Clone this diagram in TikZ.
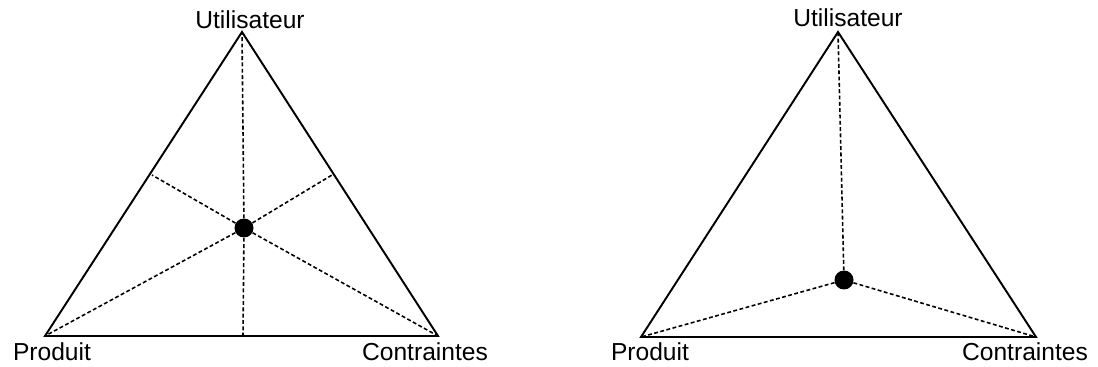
\documentclass[tikz,border=0pt]{standalone}
\usepackage{fontspec}
\setmainfont{Liberation Sans}
\usetikzlibrary{positioning}

\begin{document}
\begin{tikzpicture}[x=0.02cm, y=-0.02cm,
                    every node/.append style = {font=\fontsize{14}{16}\selectfont},
                    side/.style = {line width=1.1pt},
                    link/.style = {line width=0.9pt, dash pattern=on 2.2pt off 1.4pt},
                    pole/.style = {circle, fill=black, inner sep=0pt, minimum size=0.38cm}]
                \useasboundingbox (0,0) rectangle (1098,367);
                % balanced triangle
                \coordinate (lu) at (242,32);
                \coordinate (lp) at (45,336);
                \coordinate (lc) at (438,336);
                \coordinate (lb) at (243,336);
                \coordinate (ll) at (152,175);
                \coordinate (lr) at (332,175);
                \node[pole] (lx) at (244,228) {};
                \draw[side] (lu) -- (lp) -- (lc) -- cycle;
                \foreach \e in {lu,lp,lc,lb,ll,lr}
                    \draw[link] (lx) -- (\e);
                \node (nlu) at (250,20) {Utilisateur};
                \node (nlp) at (52,352) {Produit};
                \node (nlc) at (425,352) {Contraintes};
                % shifted triangle
                \coordinate (ru) at (838,32);
                \coordinate (rp) at (641,337);
                \coordinate (rc) at (1036,337);
                \node[pole] (rx) at (844,280) {};
                \draw[side] (ru) -- (rp) -- (rc) -- cycle;
                \foreach \e in {ru,rp,rc}
                    \draw[link] (rx) -- (\e);
                \node (nru) at (848,18) {Utilisateur};
                \node (nrp) at (650,352) {Produit};
                \node (nrc) at (1025,352) {Contraintes};
                \end{tikzpicture}
\end{document}
